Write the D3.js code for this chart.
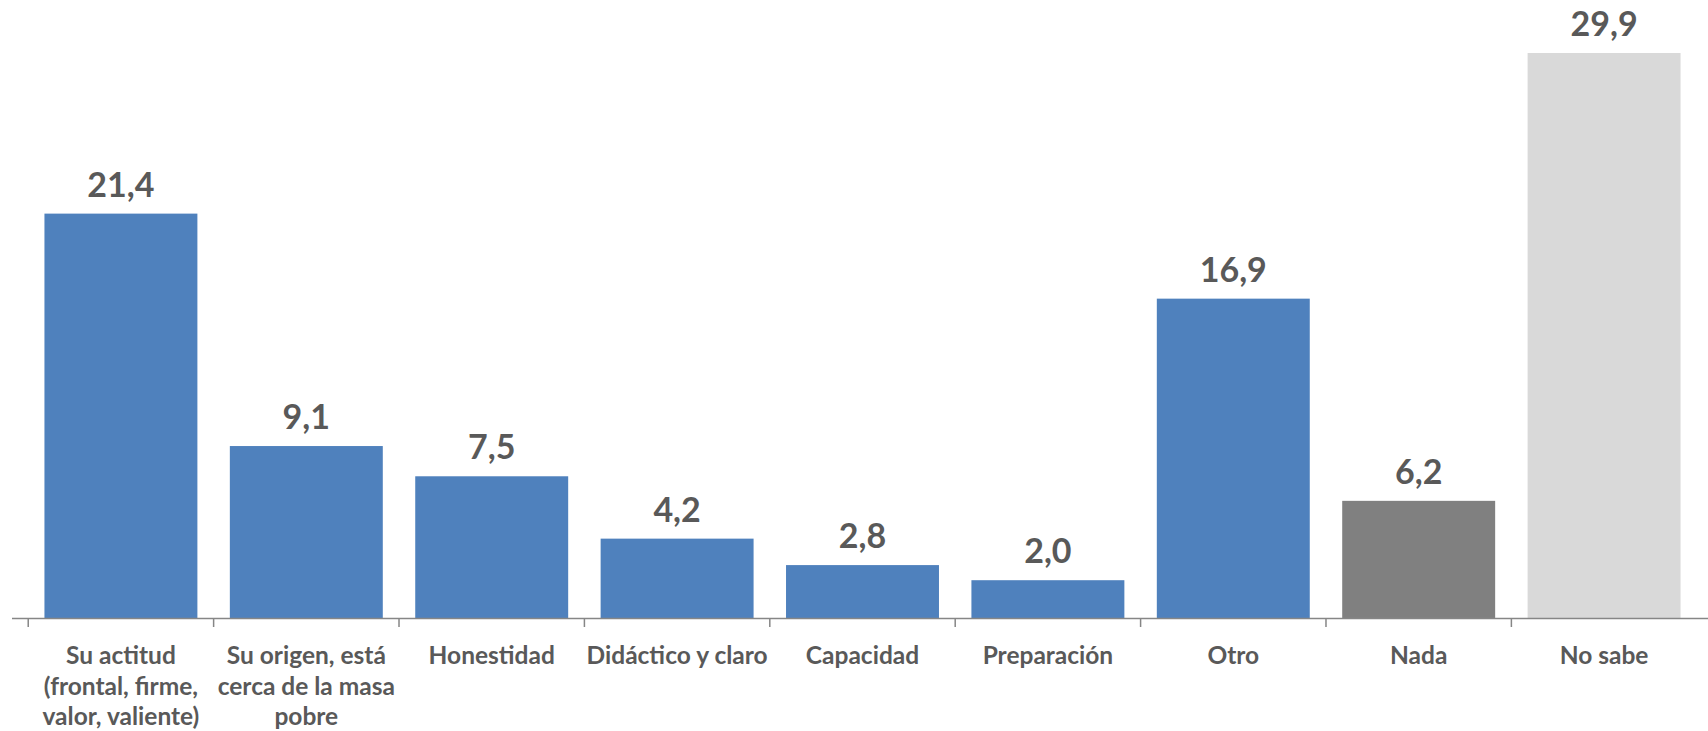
<!DOCTYPE html>
<html>
<head>
<meta charset="utf-8">
<script src="https://cdn.jsdelivr.net/npm/d3@7"></script>
<style>
  body { margin: 0; background: #fff; }
  text { font-family: Lato, "Open Sans", sans-serif; font-weight: bold; fill: #595959; }
</style>
</head>
<body>
<div id="chart"></div>
<script>
const width = 1708;
const height = 731;

// data
const categories = ["Su actitud", "Su origen", "Honestidad", "Didáctico y claro", "Capacidad", "Preparación", "Otro", "Nada", "No sabe"];
const values = [21.4, 9.1, 7.5, 4.2, 2.8, 2.0, 16.9, 6.2, 29.9];
const tickLabels = [
    ["Su actitud", "(frontal, firme,", "valor, valiente)"],
    ["Su origen, está", "cerca de la masa", "pobre"],
    ["Honestidad"],
    ["Didáctico y claro"],
    ["Capacidad"],
    ["Preparación"],
    ["Otro"],
    ["Nada"],
    ["No sabe"]
];
const barColors = ["#4F81BD", "#4F81BD", "#4F81BD", "#4F81BD", "#4F81BD", "#4F81BD", "#4F81BD", "#808080", "#D9D9D9"];

const axisY = 618;
const axisLeft = 12;
const step = 189;

var svg = d3.select("#chart")
    .append("svg")
    .attr("width", width)
    .attr("height", height);

var x = d3.scaleBand()
    .domain(categories)
    .range([axisLeft, axisLeft + step * categories.length])
    .padding(0.175);

var y = d3.scaleLinear()
    .domain([0, 29.9])
    .range([axisY, 53]);

//Bars
svg.selectAll("rect.bar")
    .data(values)
    .enter()
    .append("rect")
    .attr("class", "bar")
    .attr("x", function (d, i) { return x(categories[i]); })
    .attr("y", function (d) { return y(d); })
    .attr("width", x.bandwidth())
    .attr("height", function (d) { return y(0) - y(d); })
    .style("fill", function (d, i) { return barColors[i]; });

//Value labels
svg.selectAll("text.value")
    .data(values)
    .enter()
    .append("text")
    .attr("class", "value")
    .attr("x", function (d, i) { return x(categories[i]) + x.bandwidth() / 2; })
    .attr("y", function (d) { return y(d) - 17; })
    .attr("text-anchor", "middle")
    .style("font-size", "34px")
    .text(function (d) { return d.toFixed(1).replace(".", ","); });

//Axis line and ticks at band boundaries
var axisColor = "#868686";
svg.append("line")
    .attr("x1", axisLeft)
    .attr("x2", width)
    .attr("y1", axisY + 0.5)
    .attr("y2", axisY + 0.5)
    .style("stroke", axisColor)
    .style("stroke-width", 1.5);

var boundaries = categories.map(function (c) { return x(c) - x.step() * x.paddingInner() / 2; });
svg.selectAll("line.tick")
    .data(boundaries)
    .enter()
    .append("line")
    .attr("class", "tick")
    .attr("x1", function (d) { return d; })
    .attr("x2", function (d) { return d; })
    .attr("y1", axisY)
    .attr("y2", axisY + 9)
    .style("stroke", axisColor)
    .style("stroke-width", 1.5);

//Category labels
var labels = svg.selectAll("text.cat")
    .data(tickLabels)
    .enter()
    .append("text")
    .attr("class", "cat")
    .attr("text-anchor", "middle")
    .style("font-size", "24.5px")
    .attr("x", function (d, i) { return x(categories[i]) + x.bandwidth() / 2; })
    .attr("y", 664);

labels.selectAll("tspan")
    .data(function (d, i) { return d.map(function (l) { return { line: l, i: i }; }); })
    .enter()
    .append("tspan")
    .attr("x", function (d) { return x(categories[d.i]) + x.bandwidth() / 2; })
    .attr("dy", function (d, j) { return j === 0 ? 0 : 30.5; })
    .text(function (d) { return d.line; });
</script>
</body>
</html>
